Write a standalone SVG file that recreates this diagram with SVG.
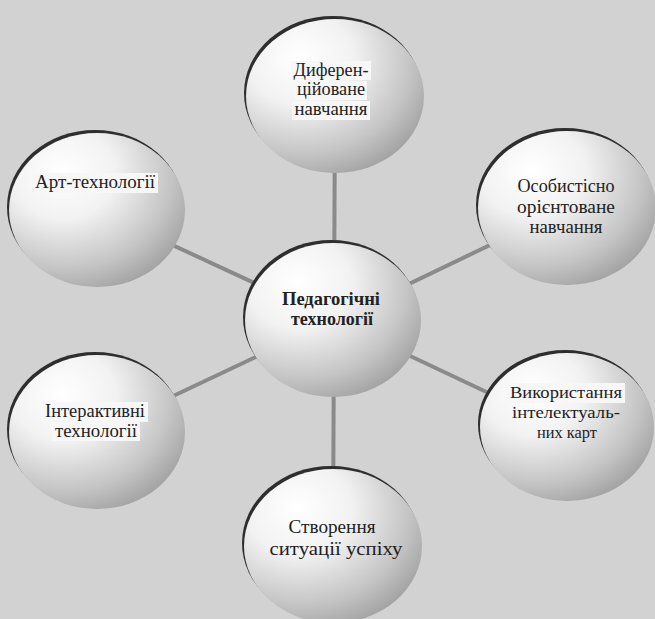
<svg xmlns="http://www.w3.org/2000/svg" width="655" height="619" viewBox="0 0 655 619">
<defs>
<radialGradient id="sph" cx="0.32" cy="0.28" r="0.85" fx="0.3" fy="0.25">
<stop offset="0" stop-color="#ffffff"/>
<stop offset="0.35" stop-color="#f2f2f2"/>
<stop offset="0.72" stop-color="#c4c4c4"/>
<stop offset="1" stop-color="#979797"/>
</radialGradient>
<style>
.bg{fill:#d2d2d2}
.rim{fill:#2e2e2e}
.ball{fill:url(#sph)}
.con line{stroke:#8a8a8a;stroke-width:4;stroke-linecap:butt}
text{font-family:"Liberation Serif","DejaVu Serif",serif;font-size:18px;fill:#222;text-anchor:middle}
.b{font-weight:bold;font-size:19px}
.s{font-size:17px}
.hl{fill:#f7f7f7}
</style>
</defs>
<rect class="bg" x="0" y="0" width="655" height="619"/>
<g id="connectors" class="con">
<line x1="334" y1="320" x2="335" y2="95"/>
<line x1="334" y1="320" x2="97" y2="210"/>
<line x1="334" y1="320" x2="567" y2="208"/>
<line x1="334" y1="320" x2="97" y2="432"/>
<line x1="334" y1="320" x2="567" y2="430"/>
<line x1="334" y1="320" x2="333" y2="545"/>
</g>
<g id="n-dyf">
<ellipse class="rim" cx="333" cy="93" rx="89" ry="77"/>
<ellipse class="ball" cx="335" cy="96" rx="89" ry="77"/>
<rect class="hl" x="291" y="61" width="80" height="19"/>
<rect class="hl" x="295" y="81" width="72" height="19"/>
<rect class="hl" x="292" y="101" width="78" height="19"/>
<text x="331" y="76" textLength="75" lengthAdjust="spacingAndGlyphs">Диферен-</text>
<text x="331" y="95" textLength="68" lengthAdjust="spacingAndGlyphs">ційоване</text>
<text x="331" y="115" textLength="73" lengthAdjust="spacingAndGlyphs">навчання</text>
</g>
<g id="n-art">
<ellipse class="rim" cx="95" cy="207" rx="88" ry="77"/>
<ellipse class="ball" cx="97" cy="210" rx="88" ry="77"/>
<rect class="hl" x="32" y="173" width="126" height="20"/>
<text x="95" y="188" textLength="120" lengthAdjust="spacingAndGlyphs">Арт-технології</text>
</g>
<g id="n-osob">
<ellipse class="rim" cx="565" cy="205" rx="89" ry="77"/>
<ellipse class="ball" cx="567" cy="208" rx="89" ry="77"/>
<text x="566" y="192" textLength="97" lengthAdjust="spacingAndGlyphs">Особистісно</text>
<text x="566" y="213" textLength="98" lengthAdjust="spacingAndGlyphs">орієнтоване</text>
<text x="566" y="233" textLength="73" lengthAdjust="spacingAndGlyphs">навчання</text>
</g>
<g id="n-center">
<ellipse class="rim" cx="331" cy="317" rx="88" ry="77"/>
<ellipse class="ball" cx="333" cy="320" rx="88" ry="77"/>
<text class="b" x="331" y="305" textLength="98" lengthAdjust="spacingAndGlyphs">Педагогічні</text>
<text class="b" x="332" y="325" textLength="82" lengthAdjust="spacingAndGlyphs">технології</text>
</g>
<g id="n-inter">
<ellipse class="rim" cx="95" cy="429" rx="88" ry="77"/>
<ellipse class="ball" cx="97" cy="432" rx="88" ry="77"/>
<rect class="hl" x="42" y="402" width="106" height="20"/>
<rect class="hl" x="52" y="422" width="88" height="19"/>
<text x="95" y="417" textLength="100" lengthAdjust="spacingAndGlyphs">Інтерактивні</text>
<text x="96" y="437" textLength="82" lengthAdjust="spacingAndGlyphs">технології</text>
</g>
<g id="n-vykor">
<ellipse class="rim" cx="565" cy="424" rx="87" ry="74"/>
<ellipse class="ball" cx="567" cy="427" rx="87" ry="74"/>
<rect class="hl" x="507" y="383" width="118" height="20"/>
<text class="s" x="566" y="398" textLength="112" lengthAdjust="spacingAndGlyphs">Використання</text>
<text class="s" x="566" y="418" textLength="108" lengthAdjust="spacingAndGlyphs">інтелектуаль-</text>
<text class="s" x="567" y="438" textLength="60" lengthAdjust="spacingAndGlyphs">них карт</text>
</g>
<g id="n-stvor">
<ellipse class="rim" cx="331" cy="543" rx="89" ry="77"/>
<ellipse class="ball" cx="333" cy="546" rx="89" ry="77"/>
<text x="332" y="533" textLength="87" lengthAdjust="spacingAndGlyphs">Створення</text>
<text x="336" y="555" textLength="133" lengthAdjust="spacingAndGlyphs">ситуації успіху</text>
</g>
</svg>
